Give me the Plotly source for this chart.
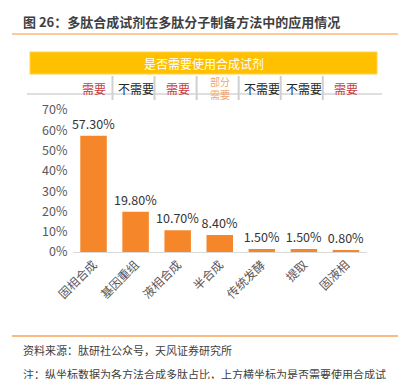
import plotly.graph_objects as go

# page body has an 8px margin; the figure is sized so that it fills the 419x379 window
OFF = 8
W, H = 419 - OFF, 379 - OFF

categories = ["固相合成", "基因重组", "液相合成", "半合成", "传统发酵", "提取", "固液相"]
values = [57.3, 19.8, 10.7, 8.4, 1.5, 1.5, 0.8]
need_labels = ["需要", "不需要", "需要", "部分<br>需要", "不需要", "不需要", "需要"]
y_ticks = [0, 10, 20, 30, 40, 50, 60, 70]
y_tick_labels = [f"{t}%" for t in y_ticks]

title_text = "图 26：多肽合成试剂在多肽分子制备方法中的应用情况"
header_text = "是否需要使用合成试剂"
source_text = "资料来源：肽研社公众号，天风证券研究所"
note_text = "注：纵坐标数据为各方法合成多肽占比，上方横坐标为是否需要使用合成试"

FONT = "Noto Sans CJK SC, Liberation Sans, Arial, sans-serif"
BAR = "#F5872A"


def px(x):
    return (x - OFF) / W


def py(y):
    return 1 - (y - OFF) / H


need_colors = {"需要": "#C9403F", "不需要": "#262626", "部分<br>需要": "#F2A56E"}

fig = go.Figure()
fig.add_trace(go.Bar(
    x=categories, y=values,
    marker=dict(color=BAR, line=dict(width=0)),
    text=[f"{v:.2f}%" for v in values],
    textposition="outside",
    constraintext="none",
    textfont=dict(size=12.5, color="#333333", family=FONT),
    cliponaxis=False,
    hoverinfo="skip",
))

shapes = []
annotations = []

# title + underline
annotations.append(dict(text=title_text, x=px(21), y=py(21), xref="paper", yref="paper",
                        xanchor="left", yanchor="middle", showarrow=False,
                        font=dict(size=13, color="#3F3F3F", family=FONT, weight="bold")))
shapes.append(dict(type="line", xref="paper", yref="paper", x0=px(12), x1=px(398), y0=py(34), y1=py(34),
                   line=dict(color="#FBC99A", width=2)))

# yellow header
shapes.append(dict(type="rect", xref="paper", yref="paper", x0=px(30), x1=px(377), y0=py(74), y1=py(52),
                   fillcolor="#FFC000", line=dict(color="#FFD24D", width=1)))
annotations.append(dict(text=header_text, x=px(203.5), y=py(63), xref="paper", yref="paper",
                        xanchor="center", yanchor="middle", showarrow=False,
                        font=dict(size=12, color="#FFFFFF", family=FONT)))

# need row
shapes.append(dict(type="line", xref="paper", yref="paper", x0=px(27), x1=px(382), y0=py(94), y1=py(94),
                   line=dict(color="#BFBFBF", width=1)))
for i in range(len(categories) - 1):
    shapes.append(dict(type="line", xref="x", yref="paper", x0=i + 0.5 - 0.05, x1=i + 0.5 - 0.05,
                       y0=py(76), y1=py(100), line=dict(color="#D0D0D0", width=2)))
for i, lab in enumerate(need_labels):
    two = "<br>" in lab
    annotations.append(dict(text=lab, x=i, y=py(88), xref="x", yref="paper",
                            xanchor="center", yanchor="middle", showarrow=False,
                            font=dict(size=10 if two else 12, color=need_colors[lab], family=FONT)))

# bottom line, source, note
shapes.append(dict(type="line", xref="paper", yref="paper", x0=px(12), x1=px(398), y0=py(336), y1=py(336),
                   line=dict(color="#F7A358", width=1.5)))
annotations.append(dict(text=source_text, x=px(21), y=py(350), xref="paper", yref="paper",
                        xanchor="left", yanchor="middle", showarrow=False,
                        font=dict(size=11, color="#404040", family=FONT)))
annotations.append(dict(text=note_text, x=px(21), y=py(374), xref="paper", yref="paper",
                        xanchor="left", yanchor="middle", showarrow=False, align="left",
                        font=dict(size=11, color="#404040", family=FONT)))

fig.update_layout(
    width=W, height=H,
    autosize=False,
    margin=dict(l=0, r=0, t=0, b=0, pad=0, autoexpand=False),
    paper_bgcolor="#FFFFFF", plot_bgcolor="#FFFFFF",
    showlegend=False,
    bargap=0.37,
    font=dict(family=FONT),
    shapes=shapes,
    annotations=annotations,
    xaxis=dict(domain=[px(72.5), px(367)], showgrid=False, showline=True, linecolor="#D9D9D9",
               linewidth=1, ticks="", tickangle=-45, automargin=False,
               tickfont=dict(size=12, color="#595959", family=FONT), fixedrange=True),
    yaxis=dict(domain=[py(252), py(110)], range=[0, 70], tickvals=y_ticks, ticktext=y_tick_labels,
               showgrid=False, zeroline=False, showline=False, ticks="", automargin=False,
               ticklabelstandoff=4,
               tickfont=dict(size=12.5, color="#595959", family=FONT), fixedrange=True),
)

fig.write_html("out.html")
